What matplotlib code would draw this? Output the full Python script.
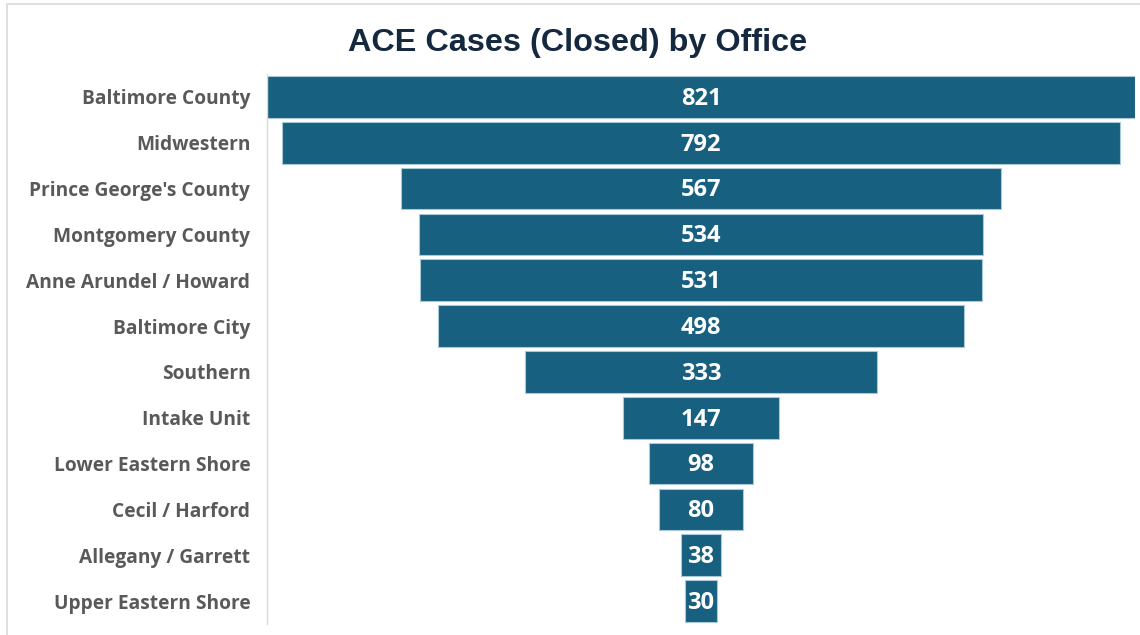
import matplotlib.pyplot as plt
from matplotlib.patches import Rectangle

offices = ["Baltimore County", "Midwestern", "Prince George's County", "Montgomery County",
           "Anne Arundel / Howard", "Baltimore City", "Southern", "Intake Unit",
           "Lower Eastern Shore", "Cecil / Harford", "Allegany / Garrett", "Upper Eastern Shore"]
cases = [821, 792, 567, 534, 531, 498, 333, 147, 98, 80, 38, 30]

bar_color = "#17607f"
label_color = "#595959"
title_color = "#14283f"

fig = plt.figure(figsize=(11.4, 6.35), dpi=100)
ax = fig.add_axes([0.2342, 0.0173, 0.9956 - 0.2342, 0.8662])

y = range(len(offices))
lefts = [-v / 2 for v in cases]
ax.barh(y, cases, left=lefts, height=0.91, color=bar_color, edgecolor="#a9c8d8", linewidth=0.8)

for i, v in enumerate(cases):
    ax.text(0, i + 0.04, str(v), ha="center", va="center", color="white",
            fontsize=17, fontweight="bold", family="Open Sans")

ax.set_xlim(-max(cases) / 2, max(cases) / 2)
ax.set_ylim(len(offices) - 0.5, -0.5)
ax.set_yticks(list(y))
ax.set_yticklabels(offices, fontsize=13.8, fontweight="bold", color=label_color, family="Open Sans")
ax.tick_params(axis="y", length=0, pad=12)
ax.set_xticks([])
for s in ["top", "right", "bottom"]:
    ax.spines[s].set_visible(False)
ax.spines["left"].set_color("#d9d9d9")
ax.spines["left"].set_linewidth(1)

fig.text(0.507, 0.933, "ACE Cases (Closed) by Office", ha="center", va="center",
         fontsize=23.3, fontweight="bold", color=title_color, family="Liberation Sans")

# outer frame (cropped on the right and bottom)
fig.patches.append(Rectangle((7 / 1140, -0.05), 1.2, 1 - 4 / 635 + 0.05, transform=fig.transFigure,
                             fill=False, edgecolor="#d9d9d9", linewidth=1.2))

plt.savefig("out.png", dpi=100)
plt.close()
